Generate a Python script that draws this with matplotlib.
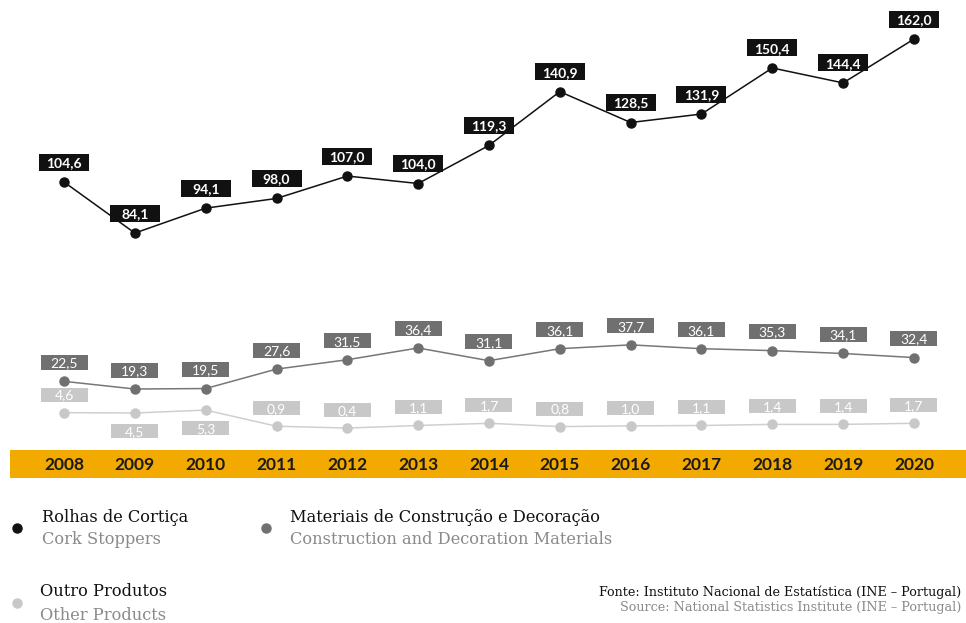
import matplotlib.pyplot as plt
import matplotlib.transforms as mtransforms
from matplotlib.patches import Rectangle


anos = [2008, 2009, 2010, 2011, 2012, 2013, 2014, 2015, 2016, 2017, 2018, 2019, 2020]
rolhas = [104.6, 84.1, 94.1, 98.0, 107.0, 104.0, 119.3, 140.9, 128.5, 131.9, 150.4, 144.4, 162.0]
materiais = [22.5, 19.3, 19.5, 27.6, 31.5, 36.4, 31.1, 36.1, 37.7, 36.1, 35.3, 34.1, 32.4]
outros = [4.6, 4.5, 5.3, 0.9, 0.4, 1.1, 1.7, 0.8, 1.0, 1.1, 1.4, 1.4, 1.7]
# rótulos abaixo do ponto (apenas outros produtos 2009 e 2010)
outros_abaixo = [2009, 2010]

PRETO = '#111111'
CINZA = '#707070'
CLARO = '#c8c8c8'
LARANJA = '#f2a900'

W, H = 966, 623
fig = plt.figure(figsize=(W / 100, H / 100), dpi=100)


###############################################################################################
def eixo(ylim):
    '''Cria um eixo invisível ocupando a figura toda, com escala própria.'''
    ax = fig.add_axes([0, 0, 1, 1])
    ax.set_xlim(2007.096, 2020.735)
    ax.set_ylim(*ylim)
    ax.axis('off')
    ax.patch.set_alpha(0)
    return ax


###############################################################################################
def serie(ax, valores, cor, caixa, largura, altura, desloc=20, abaixo=(), negrito=False,
          cor_linha=None):
    '''Desenha a linha, os pontos e os rótulos em caixas.'''
    ax.plot(anos, valores, color=cor_linha or cor, lw=1.1, marker='o', ms=6.5,
            mfc=cor, mec=cor, zorder=3)
    for ano, v in zip(anos, valores):
        dy = -desloc if ano in abaixo else desloc
        base = mtransforms.ScaledTranslation(ano, v, ax.transData)
        ax.add_patch(Rectangle((-largura / 2, dy - altura / 2), largura, altura,
                               transform=base, facecolor=caixa, edgecolor='none',
                               zorder=4, clip_on=False))
        ax.annotate(f'{v:.1f}'.replace('.', ','), (ano, v), xytext=(0, dy),
                    textcoords='offset pixels', ha='center', va='center_baseline',
                    color='white', fontsize=10, family='Lato',
                    fontweight='bold' if negrito else 'normal', zorder=5)


# cada série tem sua própria escala vertical
ax1 = eixo((-72.5, 177.7))
ax2 = eixo((-78.2, 181.4))
ax3 = eixo((-52.7, 117.0))

serie(ax3, outros, CLARO, CLARO, 47, 14, desloc=18, abaixo=outros_abaixo, cor_linha='#cfcfcf')
serie(ax2, materiais, CINZA, CINZA, 47, 15, desloc=19, cor_linha='#777777')
serie(ax1, rolhas, PRETO, PRETO, 50, 17, negrito=True)

# faixa laranja com os anos
ax1.add_patch(Rectangle((10 / W, 1 - 478 / H), 1 - 10 / W, 28 / H, transform=ax1.transAxes,
                        facecolor=LARANJA, edgecolor='none', zorder=1))
faixa = mtransforms.blended_transform_factory(ax1.transData, ax1.transAxes)
for ano in anos:
    ax1.text(ano, 1 - 465 / H, str(ano), transform=faixa, ha='center', va='center',
             fontsize=12.5, fontweight='bold', family='Lato', color='#1a1a1a', zorder=2)

# legenda
legenda = [
    (17, 42, 517, 'Rolhas de Cortiça', 'Cork Stoppers', PRETO),
    (266, 290, 517, 'Materiais de Construção e Decoração', 'Construction and Decoration Materials', CINZA),
    (17, 40, 592, 'Outro Produtos', 'Other Products', CLARO),
]
for xm, xt, yt, pt, en, cor in legenda:
    fig.add_artist(plt.Line2D([xm / W], [1 - (yt + 11) / H], marker='o', ms=6.5, color=cor,
                              mec=cor, transform=fig.transFigure))
    fig.text(xt / W, 1 - yt / H, pt, fontsize=11.7, family='DejaVu Serif', color='#111111',
             va='center')
    fig.text(xt / W, 1 - (yt + 23) / H, en, fontsize=11.7, family='DejaVu Serif', color='#8a8a8a',
             va='center')

fig.text(961 / W, 1 - 592 / H, 'Fonte: Instituto Nacional de Estatística (INE – Portugal)',
         ha='right', va='center', fontsize=9.2, family='DejaVu Serif', color='#111111')
fig.text(961 / W, 1 - 607 / H, 'Source: National Statistics Institute (INE – Portugal)',
         ha='right', va='center', fontsize=9.2, family='DejaVu Serif', color='#8a8a8a')

fig.savefig('out.png', dpi=100)
